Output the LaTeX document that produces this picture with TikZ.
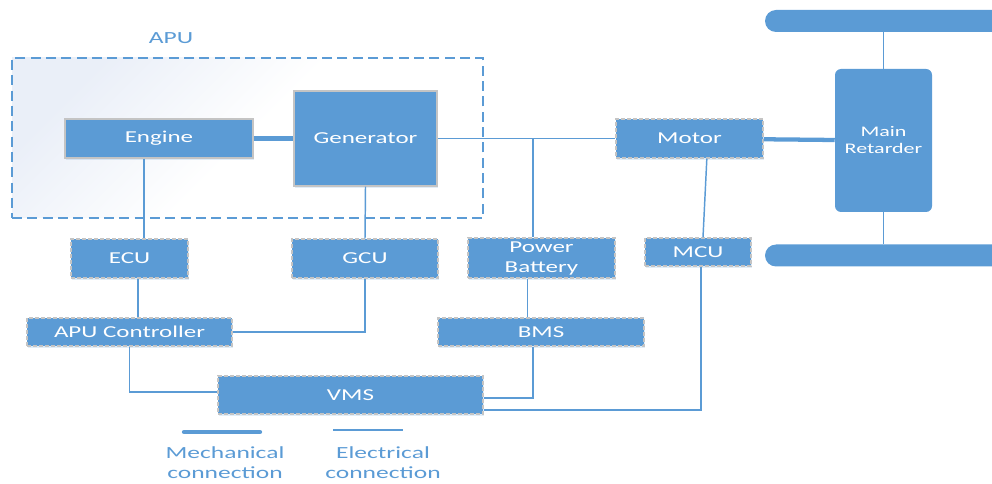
\documentclass[tikz,border=0pt]{standalone}
\usepackage{fontspec}
\setmainfont{Carlito}[FakeStretch=1.5]
\usepackage{xcolor}
\usepackage{tikz}
\usetikzlibrary{positioning,shadows}
\definecolor{boxblue}{HTML}{5B9BD5}
\definecolor{edgegray}{HTML}{C4C4C4}
\definecolor{apushade}{HTML}{EAEFF8}

\begin{document}
\begin{tikzpicture}[x=0.75pt,y=-0.75pt,
  every node/.style={font=\fontsize{12.5}{15}\selectfont},
  unit/.style={draw=edgegray,line width=1.1pt,fill=boxblue,text=white,
    inner sep=0pt,align=center,
    drop shadow={shadow xshift=1pt,shadow yshift=-1.5pt,fill=boxblue,opacity=0.18}},
  ctrl/.style={unit,dash pattern=on 3pt off 1.5pt},
  mech/.style={boxblue,line width=3.2pt},
  elec/.style={boxblue,line width=1.1pt},
  note/.style={text=boxblue,align=center,font=\fontsize{12.75}{15}\selectfont}]
\useasboundingbox (0,0) rectangle (992,484);
\clip (0,0) rectangle (992,484);

\node[draw=boxblue,line width=1.1pt,dash pattern=on 7.5pt off 4pt,
  top color=apushade,bottom color=white,middle color=white,shading angle=45,
  minimum width=353.25pt,minimum height=120pt] (apu) at (247.5,138) {};
\node[note] (apulabel) at (171,38) {APU};

\node[unit,minimum width=141pt,minimum height=29.25pt] (engine) at (159,138.5) {Engine};
\node[unit,minimum width=107.25pt,minimum height=71.25pt] (gen) at (365.5,138.5) {};
\node[text=white] at (gen.center |- engine.center) {Generator};
\node[ctrl,minimum width=110.25pt,minimum height=29.25pt] (motor) at (689.5,138.5) {Motor};
\node[fill=boxblue,text=white,rounded corners=4.5pt,align=center,
  font=\fontsize{11}{12.75}\selectfont,
  minimum width=72.75pt,minimum height=107.25pt] (retarder) at (883.5,140.5) {Main\\Retarder};
\node[fill=boxblue,rounded corners=8.25pt,minimum width=191.25pt,minimum height=16.5pt] (wheelT) at (892.5,21) {};
\node[fill=boxblue,rounded corners=8.25pt,minimum width=191.25pt,minimum height=16.5pt] (wheelB) at (892.5,255.5) {};

\node[ctrl,minimum width=87.75pt,minimum height=29.25pt] (ecu) at (129.5,258.5) {ECU};
\node[ctrl,minimum width=109.5pt,minimum height=29.25pt] (gcu) at (365,258.5) {GCU};
\node[ctrl,minimum width=110.25pt,minimum height=30pt] (batt) at (541.5,258) {Power\\Battery};
\node[ctrl,minimum width=79.5pt,minimum height=21pt] (mcu) at (698,252) {MCU};
\node[ctrl,minimum width=153.75pt,minimum height=21pt] (apuc) at (129.5,332) {APU Controller};
\node[ctrl,minimum width=154.5pt,minimum height=21pt] (bms) at (541,332) {BMS};
\node[ctrl,minimum width=198.75pt,minimum height=28.5pt] (vms) at (350.5,395) {VMS};

\draw[mech] (engine) -- (gen);
\draw[mech] (motor) -- (retarder);
\draw[elec] (gen.east) -- (motor.west);
\draw[elec] (retarder.north) -- (retarder.north |- wheelT.south);
\draw[elec] (retarder.south) -- (retarder.south |- wheelB.north);
\draw[elec] (gen.south) -- (gcu.north);

\coordinate (engdown) at ([xshift=-11.25pt]engine.south);
\draw[elec] (engdown) -- (engdown |- ecu.north);
\coordinate (ecudown) at ([xshift=6.4pt]ecu.south);
\draw[elec] (ecudown) -- (ecudown |- apuc.north);
\draw[elec] (gcu.south) |- (apuc.east);
\draw[elec] (apuc.south) |- ([yshift=2.25pt]vms.west);

\coordinate (battap) at (533,138.5);
\draw[elec] (battap) -- (battap |- batt.north);
\coordinate (batdown) at ([xshift=-10.5pt]batt.south);
\draw[elec] (batdown) -- (batdown |- bms.north);
\draw[elec] ([xshift=-6pt]bms.south) |- ([yshift=-2.25pt]vms.east);

\draw[elec] ([xshift=13pt]motor.south) -- ([xshift=3.75pt]mcu.north);
\draw[elec] ([xshift=2.25pt]mcu.south) |- ([yshift=-11.25pt]vms.east);

\coordinate (mechA) at (184,432);
\coordinate (mechB) at (260,432);
\draw[mech,line cap=round] (mechA) -- (mechB);
\coordinate (elecA) at (333,430);
\coordinate (elecB) at (403,430);
\draw[elec,line width=1.6pt] (elecA) -- (elecB);
\node[note] (mechnote) at (225,463) {Mechanical\\connection};
\node[note] (elecnote) at (383,463) {Electrical\\connection};
\end{tikzpicture}
\end{document}
